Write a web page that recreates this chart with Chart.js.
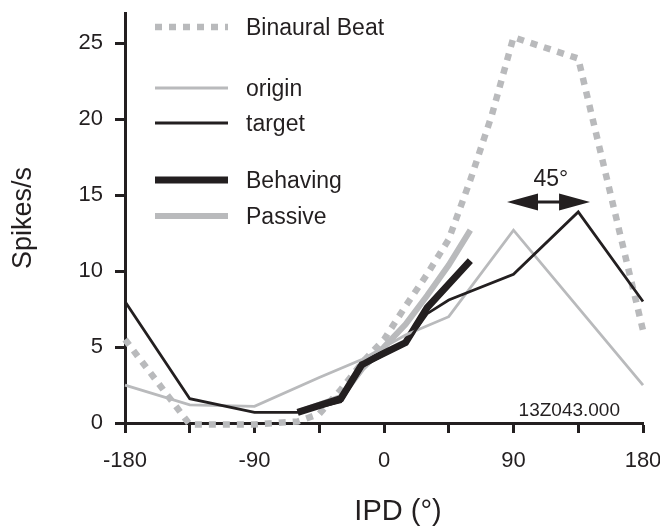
<!DOCTYPE html>
<html>
<head>
<meta charset="utf-8">
<script src="https://cdn.jsdelivr.net/npm/chart.js@4.4.1/dist/chart.umd.min.js"></script>
<style>
    body { margin: 0; background: #fff; }
</style>
</head>
<body>
<canvas id="chartIPD" width="660" height="527"></canvas>
<script>
// Curvas de sintonía IPD (spikes/s)
const binauralIPD = [-180, -135, -90, -60, -45, -30, -15, 0, 15, 30, 45, 60, 75, 90, 135, 180];
const binauralRate = [5.5, -0.1, -0.1, 0.1, 0.6, 2.2, 4.0, 5.5, 7.7, 9.8, 12.1, 16.0, 20.3, 25.4, 24.0, 6.1];

const originIPD = [-180, -135, -90, -45, -15, 15, 45, 90, 180];
const originRate = [2.5, 1.2, 1.1, 3.0, 4.2, 5.8, 7.0, 12.7, 2.5];

const targetIPD = [-180, -135, -90, -60, -30, -15, 0, 15, 30, 45, 90, 135, 180];
const targetRate = [8.0, 1.6, 0.7, 0.7, 1.4, 3.7, 4.5, 5.2, 7.2, 8.1, 9.8, 13.9, 8.0];

const behavingIPD = [-60, -30, -15, 15, 30, 60];
const behavingRate = [0.7, 1.6, 3.9, 5.3, 7.6, 10.7];

const passiveIPD = [-60, -30, -15, 0, 15, 30, 45, 60];
const passiveRate = [0.7, 1.7, 3.6, 5.0, 6.5, 8.4, 10.4, 12.7];

const yTicks = [0, 5, 10, 15, 20, 25];
const xTicksLabel = [-180, -90, 0, 90, 180];

// flecha "45°" entre los picos
const flechaDesde = 85.5;
const flechaHasta = 143.2;
const flechaY = 14.55;

const FONT = "'Liberation Sans', Arial, Helvetica, sans-serif";
const INK = "#231f20";
const GRIS = "#b9babc";

const puntos = (xs, ys) => xs.map((x, i) => ({ x, y: ys[i] }));

// posiciones de la leyenda (px desde arriba del área)
const leyendaY = { "Binaural Beat": 14, "origin": 75, "target": 110, "Behaving": 167, "Passive": 203 };
const leyendaOrden = ["Binaural Beat", "origin", "target", "Behaving", "Passive"];

const extras = {
    id: "extras",
    afterDraw(chart) {
        const { ctx, chartArea, scales } = chart;
        const x = scales.x, y = scales.y;
        ctx.save();

        // leyenda
        const lx0 = chartArea.left + 30, lx1 = chartArea.left + 103, tx = chartArea.left + 121;
        leyendaOrden.forEach(nombre => {
            const ds = chart.data.datasets.find(d => d.label === nombre);
            const ly = chartArea.top + leyendaY[nombre];
            ctx.beginPath();
            ctx.strokeStyle = ds.borderColor;
            ctx.lineWidth = ds.borderWidth;
            ctx.setLineDash(ds.borderDash || []);
            ctx.moveTo(lx0, ly);
            ctx.lineTo(lx1, ly);
            ctx.stroke();
            ctx.setLineDash([]);
            ctx.fillStyle = INK;
            ctx.font = `23px ${FONT}`;
            ctx.textAlign = "left";
            ctx.textBaseline = "middle";
            ctx.fillText(nombre, tx, ly + 2);
        });

        // flecha doble
        const ay = y.getPixelForValue(flechaY);
        const ax1 = x.getPixelForValue(flechaDesde);
        const ax2 = x.getPixelForValue(flechaHasta);
        ctx.strokeStyle = INK;
        ctx.fillStyle = INK;
        ctx.lineWidth = 3;
        ctx.beginPath();
        ctx.moveTo(ax1 + 20, ay);
        ctx.lineTo(ax2 - 20, ay);
        ctx.stroke();
        ctx.beginPath();
        ctx.moveTo(ax1, ay);
        ctx.lineTo(ax1 + 31, ay - 8.5);
        ctx.lineTo(ax1 + 31, ay + 8.5);
        ctx.closePath();
        ctx.fill();
        ctx.beginPath();
        ctx.moveTo(ax2, ay);
        ctx.lineTo(ax2 - 31, ay - 8.5);
        ctx.lineTo(ax2 - 31, ay + 8.5);
        ctx.closePath();
        ctx.fill();

        ctx.font = `23px ${FONT}`;
        ctx.textAlign = "center";
        ctx.textBaseline = "middle";
        ctx.fillText("45°", x.getPixelForValue(116), y.getPixelForValue(16.0));

        // id de la unidad
        ctx.font = `19px ${FONT}`;
        ctx.textAlign = "right";
        ctx.fillText("13Z043.000", chartArea.right - 23, chartArea.bottom - 12);

        // título eje x
        ctx.font = `29px ${FONT}`;
        ctx.textAlign = "center";
        ctx.fillText("IPD (°)", (chartArea.left + chartArea.right) / 2 + 14, chartArea.bottom + 89);

        ctx.restore();
    }
};

const ctx = document.getElementById("chartIPD").getContext("2d");

new Chart(ctx, {
    type: "line",
    data: {
        datasets: [
            { label: "target", data: puntos(targetIPD, targetRate), borderColor: INK, borderWidth: 2.8 },
            { label: "origin", data: puntos(originIPD, originRate), borderColor: GRIS, borderWidth: 2.8 },
            { label: "Behaving", data: puntos(behavingIPD, behavingRate), borderColor: INK, borderWidth: 7 },
            { label: "Passive", data: puntos(passiveIPD, passiveRate), borderColor: GRIS, borderWidth: 6 },
            { label: "Binaural Beat", data: puntos(binauralIPD, binauralRate), borderColor: GRIS, borderWidth: 6.5, borderDash: [7, 7] }
        ].map(d => Object.assign(d, {
            pointRadius: 0,
            tension: 0,
            fill: false,
            clip: false,
            borderJoinStyle: "miter",
            borderCapStyle: "butt"
        }))
    },
    options: {
        responsive: false,
        animation: false,
        layout: { padding: { top: 13, right: 17, left: 0, bottom: 0 } },
        plugins: {
            legend: { display: false },
            tooltip: { enabled: false }
        },
        scales: {
            x: {
                type: "linear",
                min: -180,
                max: 180,
                border: { color: INK, width: 3 },
                grid: { drawOnChartArea: false, tickLength: 10, tickWidth: 3, tickColor: INK },
                ticks: {
                    stepSize: 45,
                    autoSkip: false,
                    maxRotation: 0,
                    padding: 15,
                    color: INK,
                    font: { family: FONT, size: 22 },
                    callback: v => xTicksLabel.includes(v) ? String(v) : ""
                },
                afterFit: scale => {
                    scale.height = 104;
                    scale.paddingLeft = 0;
                    scale.paddingRight = 0;
                }
            },
            y: {
                min: 0,
                max: 27,
                border: { color: INK, width: 3 },
                grid: { drawOnChartArea: false, tickLength: 10, tickWidth: 3, tickColor: INK },
                ticks: {
                    stepSize: 5,
                    padding: 12,
                    color: INK,
                    font: { family: FONT, size: 22 }
                },
                afterBuildTicks: scale => {
                    scale.ticks = yTicks.map(v => ({ value: v }));
                },
                title: {
                    display: true,
                    text: "Spikes/s",
                    color: INK,
                    font: { family: FONT, size: 27 },
                    padding: { top: 7, bottom: 0 }
                },
                afterFit: scale => {
                    scale.width = 125;
                    scale.paddingTop = 0;
                    scale.paddingBottom = 0;
                }
            }
        }
    },
    plugins: [extras]
});
</script>
</body>
</html>
